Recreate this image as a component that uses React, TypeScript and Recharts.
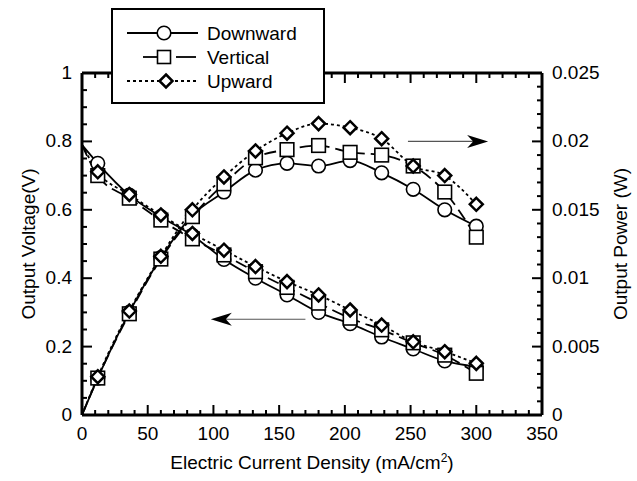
import React from 'react';
import { LineChart, Line, XAxis, YAxis, ReferenceLine } from 'recharts';

// current density (mA/cm2); the 0 point only anchors the fitted curves
const current = [0, 12, 36, 60, 84, 108, 132, 156, 180, 204, 228, 252, 276, 300];

const voltageDownward = [0.79, 0.736, 0.643, 0.58, 0.525, 0.455, 0.4, 0.351, 0.3, 0.267, 0.228, 0.193, 0.158, 0.141];
const voltageVertical = [0.79, 0.7, 0.634, 0.57, 0.515, 0.468, 0.419, 0.373, 0.327, 0.283, 0.249, 0.211, 0.175, 0.122];
const voltageUpward = [0.79, 0.711, 0.645, 0.585, 0.531, 0.482, 0.434, 0.39, 0.351, 0.307, 0.263, 0.214, 0.185, 0.151];

const powerDownward = [0, 0.0027, 0.0075, 0.0115, 0.0146, 0.0163, 0.0179, 0.0184, 0.0182, 0.0186, 0.0177, 0.0165, 0.015, 0.0138];
const powerVertical = [0, 0.0027, 0.0074, 0.0114, 0.0145, 0.0169, 0.0188, 0.0194, 0.0197, 0.0192, 0.019, 0.0182, 0.0163, 0.013];
const powerUpward = [0, 0.0028, 0.0076, 0.0116, 0.015, 0.0174, 0.0193, 0.0206, 0.0213, 0.021, 0.0202, 0.0182, 0.0175, 0.0154];

const xTicks = Array.from({ length: 36 }, (_, i) => i * 10);
const voltageTicks = Array.from({ length: 21 }, (_, i) => (i * 5) / 100);
const powerTicks = Array.from({ length: 26 }, (_, i) => i / 1000);

const rows = current.map((x, i) => ({
  x,
  vDown: voltageDownward[i],
  vVert: voltageVertical[i],
  vUp: voltageUpward[i],
  pDown: powerDownward[i],
  pVert: powerVertical[i],
  pUp: powerUpward[i],
}));

const FONT = '"Liberation Sans", Arial, Helvetica, sans-serif';
const FS = 19;
const MAJOR = 10;
const MINOR = 5;
const LW = 1.8;

const BottomTick = (props: any) => {
  const { x, y, payload } = props;
  const v = payload.value;
  const major = v % 50 === 0;
  return (
    <g>
      <line x1={x} y1={y} x2={x} y2={y - (major ? MAJOR : MINOR)} stroke="#000" strokeWidth={2} />
      {major && (
        <text x={x} y={y + 25} textAnchor="middle" fontSize={FS} fontFamily={FONT} fill="#000">
          {v}
        </text>
      )}
    </g>
  );
};

const TopTick = (props: any) => {
  const { x, y, payload } = props;
  const major = payload.value % 50 === 0;
  return <line x1={x} y1={y} x2={x} y2={y + (major ? MAJOR : MINOR)} stroke="#000" strokeWidth={2} />;
};

const LeftTick = (props: any) => {
  const { x, y, payload } = props;
  const v = payload.value;
  const major = Math.round(v / 0.05) % 4 === 0;
  return (
    <g>
      <line x1={x} y1={y} x2={x + (major ? MAJOR : MINOR)} y2={y} stroke="#000" strokeWidth={2} />
      {major && (
        <text x={x - 10} y={y + 6} textAnchor="end" fontSize={FS} fontFamily={FONT} fill="#000">
          {String(Number(v.toFixed(2)))}
        </text>
      )}
    </g>
  );
};

const RightTick = (props: any) => {
  const { x, y, payload } = props;
  const v = payload.value;
  const major = Math.round(v * 1000) % 5 === 0;
  return (
    <g>
      <line x1={x} y1={y} x2={x - (major ? MAJOR : MINOR)} y2={y} stroke="#000" strokeWidth={2} />
      {major && (
        <text x={x + 10} y={y + 6} textAnchor="start" fontSize={FS} fontFamily={FONT} fill="#000">
          {String(Number(v.toFixed(3)))}
        </text>
      )}
    </g>
  );
};

const leftTitle = (p: any) => {
  const vb = p.viewBox || { x: 0, y: 73, width: 82, height: 342 };
  const cx = vb.x + 35;
  const cy = vb.y + vb.height / 2;
  return (
    <text x={cx} y={cy} transform={`rotate(-90, ${cx}, ${cy})`} textAnchor="middle" fontSize={FS} fontFamily={FONT} fill="#000">
      Output Voltage(V)
    </text>
  );
};

const rightTitle = (p: any) => {
  const vb = p.viewBox || { x: 542, y: 73, width: 95, height: 342 };
  const cx = vb.x + 85;
  const cy = vb.y + vb.height / 2;
  return (
    <text x={cx} y={cy} transform={`rotate(-90, ${cx}, ${cy})`} textAnchor="middle" fontSize={FS} fontFamily={FONT} fill="#000">
      Output Power (W)
    </text>
  );
};

const bottomTitle = (p: any) => {
  const vb = p.viewBox || { x: 82, y: 415, width: 460, height: 66 };
  return (
    <text x={vb.x + vb.width / 2} y={vb.y + 54} textAnchor="middle" fontSize={FS} fontFamily={FONT} fill="#000">
      Electric Current Density (mA/cm
      <tspan dy={-7} fontSize={12}>2</tspan>
      <tspan dy={7}>)</tspan>
    </text>
  );
};

const skip = (p: any) => <g key={p.key ?? `s${p.index}`} />;

const circleDot = (p: any) =>
  p.index === 0 ? skip(p) : (
    <circle key={p.key ?? `c${p.index}`} cx={p.cx} cy={p.cy} r={6.8} fill="#fff" stroke="#000" strokeWidth={1.6} />
  );

const squareDot = (p: any) =>
  p.index === 0 ? skip(p) : (
    <rect key={p.key ?? `r${p.index}`} x={p.cx - 6.8} y={p.cy - 6.8} width={13.6} height={13.6} fill="#fff" stroke="#000" strokeWidth={1.6} />
  );

const diamondDot = (p: any) =>
  p.index === 0 ? skip(p) : (
    <polygon
      key={p.key ?? `d${p.index}`}
      points={`${p.cx},${p.cy - 6.5} ${p.cx + 6.5},${p.cy} ${p.cx},${p.cy + 6.5} ${p.cx - 6.5},${p.cy}`}
      fill="#fff"
      stroke="#000"
      strokeWidth={2.5}
    />
  );

const arrowShape = (props: any) => {
  const { x1, y1, x2, y2 } = props;
  const dir = Math.sign(x2 - x1);
  const len = 21;
  const half = 6.5;
  const notch = 6;
  const pts = `${x2},${y2} ${x2 - dir * len},${y2 - half} ${x2 - dir * (len - notch)},${y2} ${x2 - dir * len},${y2 + half}`;
  return (
    <g>
      <line x1={x1} y1={y1} x2={x2 - dir * (len - notch)} y2={y2} stroke="#555" strokeWidth={1.2} />
      <polygon points={pts} fill="#000" />
    </g>
  );
};

const LegendBox = () => (
  <svg
    width={215}
    height={97}
    style={{ position: 'absolute', left: 111, top: 8, fontFamily: FONT }}
  >
    <rect x={1} y={1} width={212} height={94} fill="#fff" stroke="#000" strokeWidth={2} />
    <line x1={16} y1={25} x2={87} y2={25} stroke="#000" strokeWidth={LW} />
    <circle cx={53} cy={25} r={6.8} fill="#fff" stroke="#000" strokeWidth={1.6} />
    <text x={96} y={32} fontSize={FS} fill="#000">Downward</text>
    <line x1={32} y1={49} x2={48} y2={49} stroke="#000" strokeWidth={LW} />
    <line x1={65} y1={49} x2={85} y2={49} stroke="#000" strokeWidth={LW} />
    <rect x={46.5} y={42.5} width={13} height={13} fill="#fff" stroke="#000" strokeWidth={1.6} />
    <text x={96} y={56} fontSize={FS} fill="#000">Vertical</text>
    <line x1={16} y1={73} x2={87} y2={73} stroke="#000" strokeWidth={LW} strokeDasharray="3 3" />
    <polygon points="55,66.5 61.5,73 55,79.5 48.5,73" fill="#fff" stroke="#000" strokeWidth={2.5} />
    <text x={96} y={80} fontSize={FS} fill="#000">Upward</text>
  </svg>
);

export default function App() {
  return (
    <div style={{ position: 'relative', width: 637, height: 481 }}>
      <style>{'body{margin:0}'}</style>
      <LineChart width={637} height={481} data={rows} margin={{ top: 0, right: 0, bottom: 0, left: 0 }}>
        <XAxis
          xAxisId="bottom"
          dataKey="x"
          type="number"
          domain={[0, 350]}
          ticks={xTicks}
          interval={0}
          height={66}
          tickSize={0}
          tickMargin={0}
          tickLine={false}
          tick={BottomTick}
          axisLine={{ stroke: '#000', strokeWidth: 3 }}
          label={{ content: bottomTitle }}
        />
        <XAxis
          xAxisId="top"
          orientation="top"
          dataKey="x"
          type="number"
          domain={[0, 350]}
          ticks={xTicks}
          interval={0}
          height={73}
          tickSize={0}
          tickMargin={0}
          tickLine={false}
          tick={TopTick}
          axisLine={{ stroke: '#000', strokeWidth: 3 }}
        />
        <YAxis
          yAxisId="left"
          type="number"
          domain={[0, 1]}
          ticks={voltageTicks}
          interval={0}
          width={82}
          tickSize={0}
          tickMargin={0}
          tickLine={false}
          tick={LeftTick}
          axisLine={{ stroke: '#000', strokeWidth: 3 }}
          label={{ content: leftTitle }}
        />
        <YAxis
          yAxisId="right"
          orientation="right"
          type="number"
          domain={[0, 0.025]}
          ticks={powerTicks}
          interval={0}
          width={95}
          tickSize={0}
          tickMargin={0}
          tickLine={false}
          tick={RightTick}
          axisLine={{ stroke: '#000', strokeWidth: 3 }}
          label={{ content: rightTitle }}
        />

        <ReferenceLine xAxisId="bottom" yAxisId="left" segment={[{ x: 170, y: 0.28 }, { x: 98, y: 0.28 }]} shape={arrowShape} />
        <ReferenceLine xAxisId="bottom" yAxisId="right" segment={[{ x: 248, y: 0.02 }, { x: 309, y: 0.02 }]} shape={arrowShape} />

        <Line xAxisId="bottom" yAxisId="left" dataKey="vDown" type="monotone" stroke="#000" strokeWidth={LW} dot={circleDot} isAnimationActive={false} />
        <Line xAxisId="bottom" yAxisId="left" dataKey="vVert" type="monotone" stroke="#000" strokeWidth={LW} strokeDasharray="12 6" dot={squareDot} isAnimationActive={false} />
        <Line xAxisId="bottom" yAxisId="left" dataKey="vUp" type="monotone" stroke="#000" strokeWidth={LW} strokeDasharray="3 3" dot={diamondDot} isAnimationActive={false} />
        <Line xAxisId="bottom" yAxisId="right" dataKey="pDown" type="monotone" stroke="#000" strokeWidth={LW} dot={circleDot} isAnimationActive={false} />
        <Line xAxisId="bottom" yAxisId="right" dataKey="pVert" type="monotone" stroke="#000" strokeWidth={LW} strokeDasharray="12 6" dot={squareDot} isAnimationActive={false} />
        <Line xAxisId="bottom" yAxisId="right" dataKey="pUp" type="monotone" stroke="#000" strokeWidth={LW} strokeDasharray="3 3" dot={diamondDot} isAnimationActive={false} />
      </LineChart>
      <LegendBox />
    </div>
  );
}
